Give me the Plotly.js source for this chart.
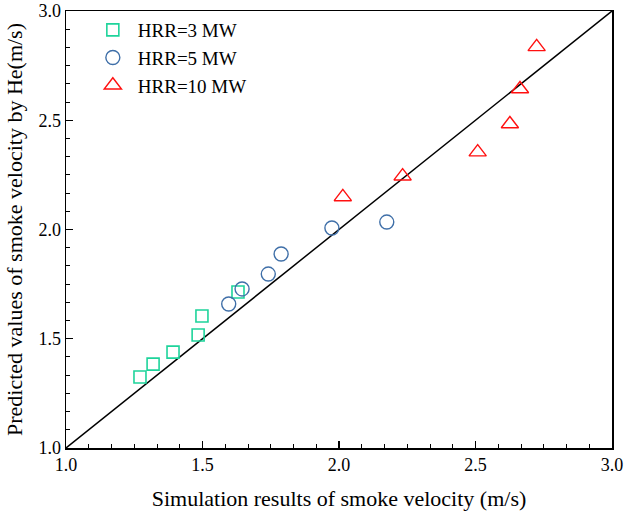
<!DOCTYPE html>
<html>
<head>
<meta charset="utf-8">
<script src="https://cdn.plot.ly/plotly-3.0.1.min.js"></script>
<style>
  html, body { margin: 0; padding: 0; background: #fff; }
  #chart { width: 624px; height: 515px; }
</style>
</head>
<body>
<div id="chart"></div>
<script>
// Simulated vs. predicted smoke velocity (m/s) for three heat release rates
const sim3MW = [1.271, 1.319, 1.392, 1.484, 1.498, 1.630];
const pred3MW = [1.325, 1.384, 1.439, 1.517, 1.604, 1.714];

const sim5MW = [1.596, 1.645, 1.741, 1.788, 1.974, 2.175];
const pred5MW = [1.659, 1.728, 1.796, 1.888, 2.007, 2.034];

const sim10MW = [2.014, 2.233, 2.508, 2.626, 2.663, 2.724];
const pred10MW = [2.149, 2.244, 2.354, 2.483, 2.643, 2.836];

const seriesNames = ['HRR=3 MW', 'HRR=5 MW', 'HRR=10 MW'];

// Line of perfect agreement
const refLine = [1.0, 3.0];

const serif = 'Liberation Serif, Times New Roman, serif';

const traces = [
  {
    x: refLine, y: refLine, mode: 'lines', showlegend: false,
    line: { color: '#000', width: 1.5 }, hoverinfo: 'skip'
  },
  {
    x: sim3MW, y: pred3MW, mode: 'markers', name: seriesNames[0],
    marker: { symbol: 'square-open', size: 12, color: '#1ed49b', line: { width: 1.6 } }
  },
  {
    x: sim5MW, y: pred5MW, mode: 'markers', name: seriesNames[1],
    marker: { symbol: 'circle-open', size: 14, color: '#3f6fa8', line: { width: 1.4 } }
  },
  {
    x: sim10MW, y: pred10MW, mode: 'markers', name: seriesNames[2],
    marker: { symbol: 'triangle-up-open', size: 15, color: '#ff1010', line: { width: 1.4 } }
  }
];

const axisCommon = {
  range: [1.0, 3.0],
  dtick: 0.5,
  tick0: 1.0,
  tickformat: '.1f',
  ticks: 'inside',
  ticklen: 7,
  tickwidth: 1.2,
  tickcolor: '#000',
  minor: { dtick: 0.5 / 6, ticks: 'inside', ticklen: 4, tickwidth: 1, tickcolor: '#000' },
  showline: true,
  linecolor: '#000',
  linewidth: 1.5,
  mirror: true,
  showgrid: false,
  zeroline: false,
  tickfont: { family: serif, size: 18, color: '#000' }
};

const layout = {
  width: 624,
  height: 515,
  margin: { l: 66, r: 12, t: 11, b: 67 },
  paper_bgcolor: '#fff',
  plot_bgcolor: '#fff',
  showlegend: true,
  legend: {
    x: 0.04, y: 1.0, xanchor: 'left', yanchor: 'top',
    bgcolor: 'rgba(0,0,0,0)',
    font: { family: serif, size: 19, color: '#000' },
    itemwidth: 40,
    tracegroupgap: 0
  },
  xaxis: Object.assign({}, axisCommon, {
    title: { text: 'Simulation results of smoke velocity (m/s)', font: { family: serif, size: 22, color: '#000' }, standoff: 16 }
  }),
  yaxis: Object.assign({}, axisCommon, {
    title: { text: 'Predicted values of smoke velocity by He(m/s)', font: { family: serif, size: 22, color: '#000' }, standoff: 9 }
  })
};

Plotly.newPlot('chart', traces, layout, { displayModeBar: false, staticPlot: true });
</script>
</body>
</html>
